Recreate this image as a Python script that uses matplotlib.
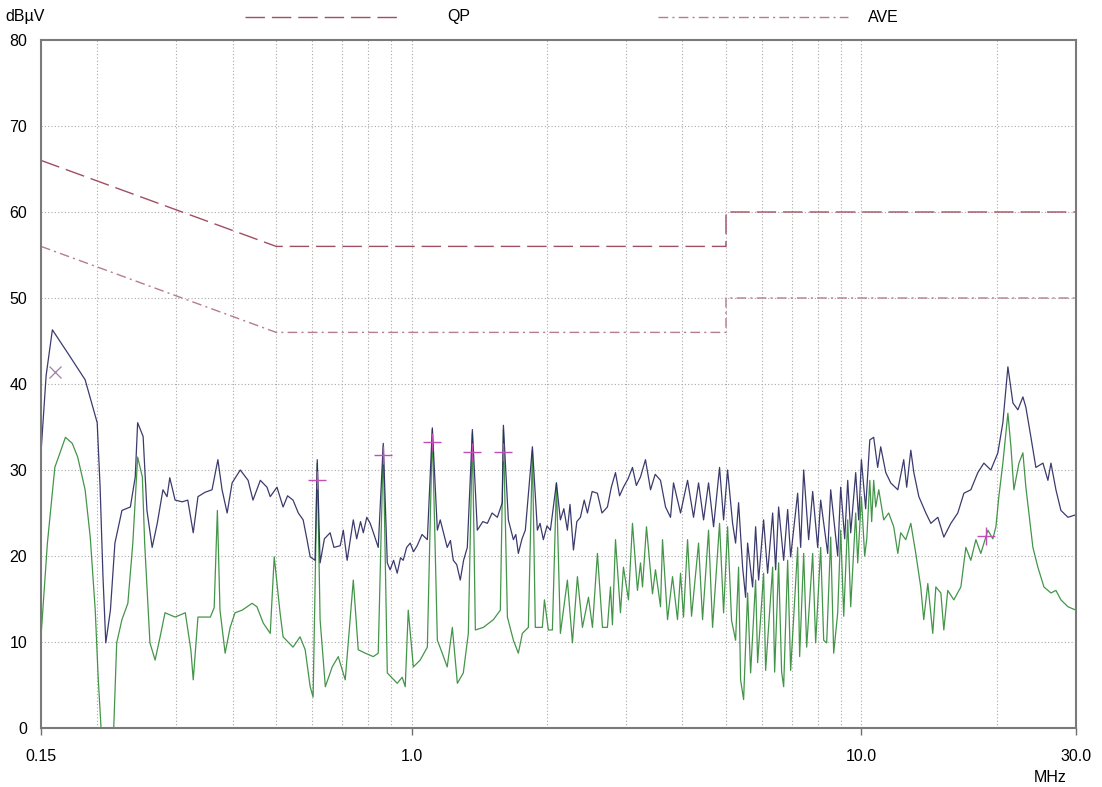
import numpy as np
import matplotlib.pyplot as plt
from matplotlib.lines import Line2D

plt.rcParams['font.family'] = ['Liberation Sans', 'DejaVu Sans']

# limit lines (MHz, dBuV)
qp_freq = [0.15, 0.5, 5.0, 5.0, 30.0]
qp_level = [66, 56, 56, 60, 60]
ave_limit_freq = [0.15, 0.5, 5.0, 5.0, 30.0]
ave_limit_level = [56, 46, 46, 50, 50]

# peak scan (navy)
peak_freq = [0.150, 0.154, 0.159, 0.172, 0.188, 0.200, 0.203, 0.206, 0.209, 0.214,
             0.219, 0.227, 0.237, 0.243, 0.246, 0.253, 0.258, 0.265, 0.272, 0.280,
             0.286, 0.290, 0.298, 0.309, 0.318, 0.327, 0.335, 0.347, 0.360, 0.371,
             0.379, 0.389, 0.399, 0.416, 0.433, 0.444, 0.461, 0.477, 0.485, 0.502,
             0.518, 0.530, 0.545, 0.560, 0.574, 0.585, 0.595, 0.610, 0.617, 0.626,
             0.640, 0.659, 0.672, 0.694, 0.705, 0.719, 0.742, 0.755, 0.770, 0.781,
             0.795, 0.809, 0.825, 0.843, 0.865, 0.883, 0.896, 0.912, 0.929, 0.945,
             0.958, 0.975, 0.993, 1.010, 1.029, 1.055, 1.084, 1.112, 1.141, 1.158,
             1.180, 1.200, 1.220, 1.238, 1.260, 1.283, 1.305, 1.330, 1.365, 1.400,
             1.440, 1.474, 1.510, 1.551, 1.591, 1.600, 1.641, 1.684, 1.705, 1.727,
             1.760, 1.790, 1.856, 1.904, 1.930, 1.963, 2.000, 2.035, 2.099, 2.142,
             2.180, 2.220, 2.250, 2.290, 2.330, 2.373, 2.420, 2.460, 2.520, 2.589,
             2.650, 2.725, 2.780, 2.840, 2.900, 2.958, 3.030, 3.098, 3.160, 3.228,
             3.311, 3.398, 3.480, 3.576, 3.669, 3.764, 3.822, 3.962, 4.107, 4.235,
             4.345, 4.458, 4.573, 4.692, 4.838, 4.939, 5.041, 5.172, 5.252, 5.333,
             5.444, 5.528, 5.585, 5.730, 5.819, 5.909, 6.062, 6.188, 6.349, 6.447,
             6.546, 6.717, 6.856, 6.962, 7.216, 7.328, 7.442, 7.634, 7.793, 7.995,
             8.119, 8.415, 8.546, 8.858, 8.995, 9.181, 9.324, 9.468, 9.713, 9.864,
             10.00, 10.22, 10.44, 10.65, 10.87, 11.04, 11.33, 11.62, 12.05, 12.42,
             12.61, 12.88, 13.08, 13.42, 13.91, 14.27, 14.79, 15.25, 15.81, 16.38,
             16.90, 17.51, 18.15, 18.72, 19.40, 20.11, 20.63, 21.17, 21.72, 22.28,
             22.86, 23.21, 23.82, 24.43, 25.33, 25.98, 26.39, 27.07, 27.77, 28.79,
             30.0]
peak_level = [32.0, 41.0, 46.3, 43.6, 40.5, 35.5, 28.0, 17.6, 9.9, 13.7,
              21.5, 25.3, 25.7, 29.2, 35.5, 33.9, 25.3, 21.0, 23.8, 27.7,
              26.9, 29.1, 26.5, 26.3, 26.5, 22.7, 26.9, 27.4, 27.7, 31.2,
              27.7, 25.0, 28.5, 30.0, 28.8, 26.5, 28.8, 28.0, 26.9, 28.0,
              25.7, 27.0, 26.5, 25.0, 24.2, 22.0, 19.9, 19.5, 31.2, 19.2,
              22.0, 22.7, 21.0, 21.2, 23.0, 19.5, 24.2, 22.0, 24.0, 22.7,
              24.5, 23.8, 22.5, 21.0, 33.1, 19.2, 18.4, 19.5, 18.0, 19.8,
              19.5, 21.0, 21.5, 20.5, 21.2, 22.5, 21.9, 34.9, 23.0, 24.2,
              22.5, 21.0, 21.8, 19.5, 19.0, 17.2, 19.5, 21.0, 34.7, 23.0,
              24.0, 23.8, 25.0, 24.5, 26.2, 35.2, 24.2, 21.9, 22.5, 20.3,
              22.0, 23.0, 32.7, 23.0, 23.8, 21.9, 23.5, 23.0, 28.5, 24.2,
              25.5, 23.0, 26.0, 20.7, 24.0, 24.5, 26.5, 25.0, 27.5, 27.3,
              25.0, 25.7, 28.0, 29.7, 27.0, 28.0, 29.0, 30.3, 28.2, 29.2,
              31.2, 27.7, 29.5, 28.8, 25.7, 24.5, 28.5, 25.0, 28.8, 24.5,
              28.5, 24.2, 28.5, 23.4, 30.3, 24.2, 30.0, 23.8, 21.5, 26.2,
              18.7, 15.2, 21.5, 16.4, 23.4, 17.2, 24.2, 18.0, 25.0, 18.4,
              25.7, 19.5, 25.4, 19.9, 27.3, 21.0, 30.0, 21.9, 27.5, 21.0,
              26.5, 20.3, 27.7, 20.0, 28.0, 22.0, 28.8, 22.7, 29.7, 24.2,
              31.2, 25.5, 33.5, 33.8, 30.3, 32.7, 29.7, 28.5, 27.7, 31.2,
              28.0, 32.3, 29.7, 26.9, 25.0, 23.8, 24.5, 22.2, 23.8, 25.0,
              27.3, 27.7, 29.7, 30.8, 30.0, 32.0, 35.5, 42.0, 37.8, 37.0,
              38.5, 37.3, 33.8, 30.3, 30.8, 28.8, 30.8, 27.7, 25.3, 24.5,
              24.8]

# average scan (green)
avg_freq = [0.150, 0.155, 0.161, 0.170, 0.176, 0.181, 0.188, 0.193, 0.198, 0.201,
            0.205, 0.217, 0.221, 0.227, 0.234, 0.240, 0.246, 0.252, 0.255, 0.262,
            0.269, 0.276, 0.283, 0.298, 0.314, 0.323, 0.327, 0.335, 0.357, 0.364,
            0.370, 0.375, 0.385, 0.395, 0.405, 0.420, 0.442, 0.453, 0.468, 0.485,
            0.495, 0.510, 0.518, 0.545, 0.565, 0.580, 0.595, 0.604, 0.617, 0.626,
            0.643, 0.666, 0.687, 0.712, 0.730, 0.742, 0.761, 0.789, 0.822, 0.843,
            0.865, 0.883, 0.929, 0.953, 0.968, 0.983, 1.009, 1.045, 1.084, 1.112,
            1.141, 1.170, 1.200, 1.232, 1.264, 1.303, 1.337, 1.365, 1.386, 1.444,
            1.520, 1.575, 1.600, 1.633, 1.684, 1.727, 1.763, 1.818, 1.856, 1.884,
            1.953, 1.974, 2.014, 2.056, 2.099, 2.142, 2.220, 2.278, 2.337, 2.398,
            2.473, 2.524, 2.589, 2.657, 2.725, 2.768, 2.796, 2.840, 2.913, 2.958,
            3.035, 3.098, 3.178, 3.228, 3.261, 3.328, 3.432, 3.485, 3.576, 3.613,
            3.707, 3.803, 3.901, 3.962, 4.023, 4.107, 4.192, 4.345, 4.435, 4.573,
            4.668, 4.838, 4.939, 5.041, 5.145, 5.252, 5.333, 5.388, 5.472, 5.585,
            5.672, 5.819, 5.879, 6.062, 6.125, 6.349, 6.414, 6.546, 6.648, 6.717,
            6.856, 6.962, 7.216, 7.290, 7.442, 7.557, 7.793, 7.913, 8.119, 8.245,
            8.372, 8.546, 8.678, 8.858, 8.995, 9.135, 9.324, 9.468, 9.713, 9.814,
            10.00, 10.17, 10.28, 10.44, 10.54, 10.65, 10.76, 10.93, 11.21, 11.50,
            11.80, 12.05, 12.23, 12.55, 12.88, 13.21, 13.55, 13.76, 14.05, 14.41,
            14.64, 15.02, 15.25, 15.56, 16.05, 16.64, 17.07, 17.51, 17.97, 18.43,
            19.11, 19.60, 19.91, 20.21, 20.63, 21.17, 21.50, 21.83, 22.40, 22.86,
            23.21, 23.57, 24.06, 24.68, 25.46, 26.39, 27.07, 27.77, 28.79, 30.0]
avg_level = [10.6, 21.5, 30.3, 33.8, 33.1, 31.5, 27.7, 22.2, 13.7, 5.9,
             -2.0, -2.0, 9.9, 12.6, 14.5, 21.5, 31.5, 29.2, 21.5, 9.9,
             7.9, 10.6, 13.4, 12.9, 13.4, 9.1, 5.6, 12.9, 12.9, 14.0,
             25.3, 13.7, 8.7, 11.7, 13.4, 13.7, 14.5, 14.1, 12.2, 11.0,
             19.9, 13.4, 10.6, 9.4, 10.6, 9.1, 4.8, 3.6, 30.8, 12.6,
             4.8, 7.1, 8.3, 5.6, 12.6, 17.2, 9.1, 8.7, 8.3, 8.7,
             32.7, 6.4, 5.2, 5.9, 4.8, 13.7, 7.1, 7.9, 9.4, 34.7,
             10.2, 8.7, 7.1, 11.7, 5.2, 6.4, 11.0, 34.3, 11.4, 11.7,
             12.6, 13.7, 34.7, 12.9, 10.2, 8.7, 11.0, 11.7, 32.3, 11.7,
             11.7, 14.9, 11.4, 11.4, 28.5, 11.0, 17.2, 9.9, 17.6, 11.7,
             15.2, 11.7, 20.3, 11.7, 11.7, 16.4, 12.0, 21.9, 13.4, 18.7,
             14.9, 23.8, 16.0, 19.2, 16.4, 23.4, 15.6, 18.4, 14.1, 21.9,
             12.6, 17.6, 12.6, 18.0, 12.9, 21.9, 13.0, 21.5, 12.6, 23.0,
             11.7, 23.8, 13.4, 23.4, 12.5, 10.2, 18.7, 5.6, 3.3, 15.7,
             6.4, 17.2, 7.6, 18.0, 6.7, 18.7, 6.5, 19.2, 6.5, 4.8,
             19.5, 6.7, 21.0, 8.3, 20.3, 9.4, 20.3, 9.9, 21.0, 10.2,
             9.9, 22.2, 8.7, 13.4, 23.0, 13.0, 24.2, 14.1, 25.0, 19.2,
             26.9, 20.0, 22.0, 28.8, 24.0, 28.8, 25.7, 27.7, 24.2, 25.0,
             23.4, 20.3, 22.7, 21.9, 23.8, 20.3, 16.4, 12.6, 16.8, 11.0,
             16.4, 15.7, 11.4, 16.0, 14.9, 16.4, 21.0, 19.5, 21.9, 20.3,
             23.0, 22.0, 23.4, 26.9, 30.8, 36.6, 32.7, 27.7, 30.8, 32.0,
             28.0, 25.0, 21.0, 18.7, 16.4, 15.7, 16.0, 14.9, 14.1, 13.7]

# final measurement markers
plus_freq = [0.617, 0.865, 1.112, 1.365, 1.600, 18.9]
plus_level = [28.8, 31.7, 33.3, 32.1, 32.1, 22.3]
cross_freq = [0.161]
cross_level = [41.4]

grid_freq = [0.2, 0.3, 0.4, 0.5, 0.6, 0.7, 0.8, 0.9, 1.0,
             2, 3, 4, 5, 6, 7, 8, 9, 10, 20]

fig = plt.figure(figsize=(11.02, 7.87), dpi=100)
ax = fig.add_axes([41 / 1102, 1 - 728 / 787, 1035 / 1102, 688 / 787])

ax.set_xscale('log')
ax.set_xlim(0.15, 30)
ax.set_ylim(0, 80)

for f in grid_freq:
    ax.axvline(f, color='#a8a8a8', lw=0.8, ls=(0, (1, 2)), zorder=0)
for lv in range(10, 80, 10):
    ax.axhline(lv, color='#a8a8a8', lw=0.8, ls=(0, (1, 2)), zorder=0)

qp_color = '#a04e62'
av_color = '#b57d8f'
ax.plot(qp_freq, qp_level, color=qp_color, lw=1.0, dashes=(14, 5))
ax.plot(ave_limit_freq, ave_limit_level, color=av_color, lw=1.0, dashes=(7, 3, 1.5, 3))

ax.plot(avg_freq, avg_level, color='#2f8a35', lw=0.9, alpha=0.9)
ax.plot(peak_freq, peak_level, color='#26265e', lw=0.9, alpha=0.9)

ax.plot(plus_freq, plus_level, ls='none', marker='+', ms=13, mew=1.0, color='#c050b8')
ax.plot(cross_freq, cross_level, ls='none', marker='x', ms=9, mew=0.9, color='#a080a8')

ax.set_xticks([0.15, 1.0, 10.0, 30.0])
ax.set_xticklabels(['0.15', '1.0', '10.0', '30.0'])
ax.xaxis.set_minor_locator(plt.NullLocator())
ax.set_yticks(range(0, 81, 10))
ax.tick_params(axis='x', length=5, width=1, color='#707070', pad=10, labelsize=11.5)
ax.tick_params(axis='y', length=0, pad=10, labelsize=11.5)

for s in ax.spines.values():
    s.set_color('#7a7a7a')
    s.set_linewidth(1.5)

fig.text(5 / 1102, 1 - 17 / 787, 'dBµV', fontsize=11.5, va='center', ha='left')
fig.text(1050 / 1102, 1 - 778 / 787, 'MHz', fontsize=11.5, va='center', ha='center')

# legend row above the plot
fig.add_artist(Line2D([245 / 1102, 400 / 1102], [1 - 17 / 787] * 2,
                      color=qp_color, lw=1.0, dashes=(14, 5)))
fig.text(447 / 1102, 1 - 17 / 787, 'QP', fontsize=11.5, va='center', ha='left')
fig.add_artist(Line2D([658 / 1102, 848 / 1102], [1 - 17 / 787] * 2,
                      color=av_color, lw=1.0, dashes=(7, 3, 1.5, 3)))
fig.text(868 / 1102, 1 - 17 / 787, 'AVE', fontsize=11.5, va='center', ha='left')

fig.savefig('out.png', dpi=100)
